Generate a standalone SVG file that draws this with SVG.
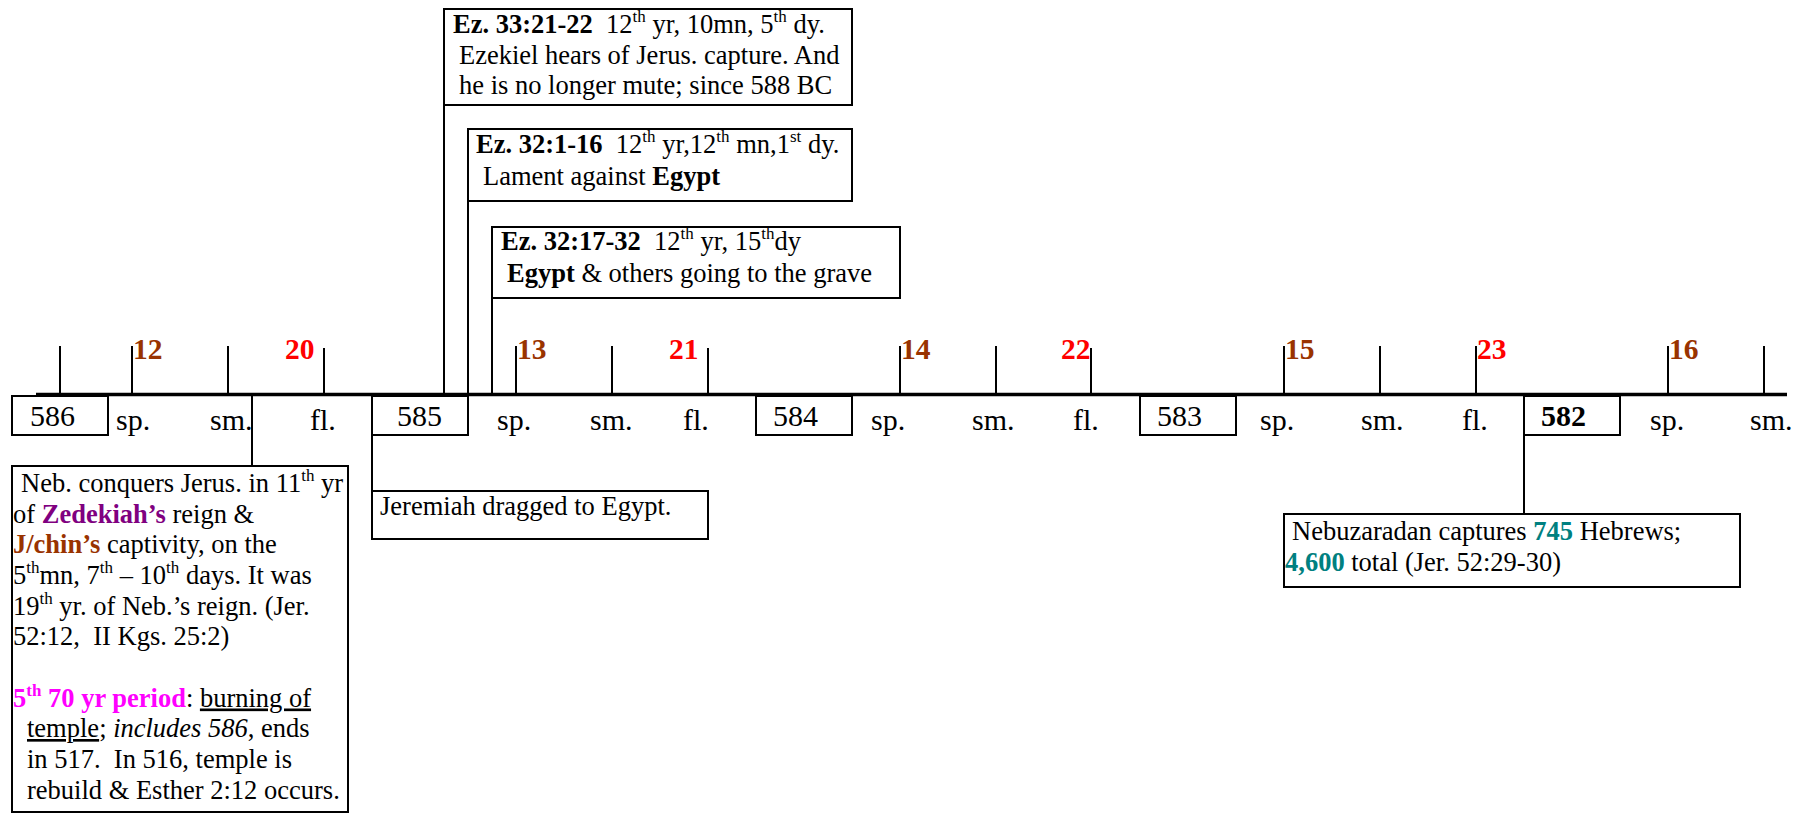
<svg xmlns="http://www.w3.org/2000/svg" width="1809" height="814" viewBox="0 0 1809 814">
<style>
text{font-family:"Liberation Serif","Times New Roman",serif;white-space:pre;fill:#000}
.t{font-size:26.5px}
.lab{font-size:30px}
.num{font-size:29.5px;font-weight:bold}
.br{fill:#993300}
.rd{fill:#FF0000}
.b{font-weight:bold}
.pu{fill:#800080}
.mg{fill:#FF00FF}
.tl{fill:#008080}
.box{fill:#fff;stroke:#000;stroke-width:2}
.ln{stroke:#000;stroke-width:2;fill:none}
.sup{font-size:17px}
</style>
<rect width="1809" height="814" fill="#fff"/>
<g id="connectors">
<line class="ln" x1="444" y1="105" x2="444" y2="394"/>
<line class="ln" x1="468" y1="201" x2="468" y2="435"/>
<line class="ln" x1="492" y1="298" x2="492" y2="394"/>
<line class="ln" x1="252" y1="394" x2="252" y2="466"/>
<line class="ln" x1="372" y1="435" x2="372" y2="491"/>
<line class="ln" x1="1524" y1="435" x2="1524" y2="514"/>
</g>
<g id="timeline">
<line x1="36" y1="394.5" x2="1787" y2="394.5" stroke="#000" stroke-width="3.5"/>
<g class="ln">
<line x1="60" y1="346" x2="60" y2="394"/>
<line x1="132" y1="346" x2="132" y2="394"/>
<line x1="228" y1="346" x2="228" y2="394"/>
<line x1="324" y1="348" x2="324" y2="394"/>
<line x1="516" y1="346" x2="516" y2="394"/>
<line x1="612" y1="346" x2="612" y2="394"/>
<line x1="708" y1="348" x2="708" y2="394"/>
<line x1="900" y1="346" x2="900" y2="394"/>
<line x1="996" y1="346" x2="996" y2="394"/>
<line x1="1091" y1="348" x2="1091" y2="394"/>
<line x1="1284" y1="346" x2="1284" y2="394"/>
<line x1="1380" y1="346" x2="1380" y2="394"/>
<line x1="1476" y1="346" x2="1476" y2="394"/>
<line x1="1668" y1="346" x2="1668" y2="394"/>
<line x1="1764" y1="346" x2="1764" y2="394"/>
</g>
<text class="num br" x="133" y="359">12</text>
<text class="num rd" x="285" y="359">20</text>
<text class="num br" x="517" y="359">13</text>
<text class="num rd" x="669" y="359">21</text>
<text class="num br" x="901" y="359">14</text>
<text class="num rd" x="1061" y="359">22</text>
<text class="num br" x="1285" y="359">15</text>
<text class="num rd" x="1477" y="359">23</text>
<text class="num br" x="1669" y="359">16</text>
<text class="lab" x="116" y="430">sp.</text>
<text class="lab" x="210" y="430">sm.</text>
<text class="lab" x="310" y="430">fl.</text>
<text class="lab" x="497" y="430">sp.</text>
<text class="lab" x="590" y="430">sm.</text>
<text class="lab" x="683" y="430">fl.</text>
<text class="lab" x="871" y="430">sp.</text>
<text class="lab" x="972" y="430">sm.</text>
<text class="lab" x="1073" y="430">fl.</text>
<text class="lab" x="1260" y="430">sp.</text>
<text class="lab" x="1361" y="430">sm.</text>
<text class="lab" x="1462" y="430">fl.</text>
<text class="lab" x="1650" y="430">sp.</text>
<text class="lab" x="1750" y="430">sm.</text>
</g>
<g id="y586"><rect class="box" x="12" y="396" width="96" height="39"/><text class="lab" x="30" y="426">586</text></g>
<g id="y585"><rect class="box" x="372" y="396" width="96" height="39"/><text class="lab" x="397" y="426">585</text></g>
<g id="y584"><rect class="box" x="756" y="396" width="96" height="39"/><text class="lab" x="773" y="426">584</text></g>
<g id="y583"><rect class="box" x="1140" y="396" width="96" height="39"/><text class="lab" x="1157" y="426">583</text></g>
<g id="y582"><rect class="box" x="1524" y="396" width="96" height="39"/><text class="lab b" x="1541" y="426">582</text></g>
<g id="ez33">
<rect class="box" x="444" y="9" width="408" height="96"/>
<text class="t" x="453" y="33"><tspan class="b">Ez. 33:21-22</tspan>  12<tspan class="sup" dy="-11">th</tspan><tspan dy="11"> yr, 10mn, 5</tspan><tspan class="sup" dy="-11">th</tspan><tspan dy="11"> dy.</tspan></text>
<text class="t" x="459" y="64">Ezekiel hears of Jerus. capture. And</text>
<text class="t" x="459" y="94">he is no longer mute; since 588 BC</text>
</g>
<g id="ez32a">
<rect class="box" x="468" y="129" width="384" height="72"/>
<text class="t" x="476" y="153"><tspan class="b">Ez. 32:1-16</tspan>  12<tspan class="sup" dy="-11">th</tspan><tspan dy="11"> yr,12</tspan><tspan class="sup" dy="-11">th</tspan><tspan dy="11"> mn,1</tspan><tspan class="sup" dy="-11">st</tspan><tspan dy="11"> dy.</tspan></text>
<text class="t" x="483" y="185">Lament against <tspan class="b">Egypt</tspan></text>
</g>
<g id="ez32b">
<rect class="box" x="492" y="227" width="408" height="71"/>
<text class="t" x="501" y="250"><tspan class="b">Ez. 32:17-32</tspan>  12<tspan class="sup" dy="-11">th</tspan><tspan dy="11"> yr, 15</tspan><tspan class="sup" dy="-11">th</tspan><tspan dy="11">dy</tspan></text>
<text class="t" x="507" y="282"><tspan class="b">Egypt</tspan> &amp; others going to the grave</text>
</g>
<g id="neb">
<rect class="box" x="12" y="466" width="336" height="346"/>
<text class="t" x="21" y="492">Neb. conquers Jerus. in 11<tspan class="sup" dy="-11">th</tspan><tspan dy="11"> yr</tspan></text>
<text class="t" x="13" y="522.5">of <tspan class="b pu">Zedekiah’s</tspan> reign &amp;</text>
<text class="t" x="13" y="553"><tspan class="b br">J/chin’s</tspan> captivity, on the</text>
<text class="t" x="13" y="584">5<tspan class="sup" dy="-11">th</tspan><tspan dy="11">mn, 7</tspan><tspan class="sup" dy="-11">th</tspan><tspan dy="11"> – 10</tspan><tspan class="sup" dy="-11">th</tspan><tspan dy="11"> days. It was</tspan></text>
<text class="t" x="13" y="614.5">19<tspan class="sup" dy="-11">th</tspan><tspan dy="11"> yr. of Neb.’s reign. (Jer.</tspan></text>
<text class="t" x="13" y="645">52:12,  II Kgs. 25:2)</text>
<text class="t" x="13" y="706.5"><tspan class="b mg">5</tspan><tspan class="b mg sup" dy="-11">th</tspan><tspan class="b mg" dy="11"> 70 yr period</tspan>: <tspan text-decoration="underline">burning of</tspan></text>
<text class="t" x="27" y="737"><tspan text-decoration="underline">temple</tspan>; <tspan font-style="italic">includes 586</tspan>, ends</text>
<text class="t" x="27" y="768">in 517.  In 516, temple is</text>
<text class="t" x="27" y="798.5">rebuild &amp; Esther 2:12 occurs.</text>
</g>
<g id="jeremiah">
<rect class="box" x="372" y="491" width="336" height="48"/>
<text class="t" x="380" y="515">Jeremiah dragged to Egypt.</text>
</g>
<g id="nebuzaradan">
<rect class="box" x="1284" y="514" width="456" height="73"/>
<text class="t" x="1292" y="539.5">Nebuzaradan captures <tspan class="b tl">745</tspan> Hebrews;</text>
<text class="t" x="1285" y="570.5"><tspan class="b tl">4,600</tspan> total (Jer. 52:29-30)</text>
</g>
</svg>
